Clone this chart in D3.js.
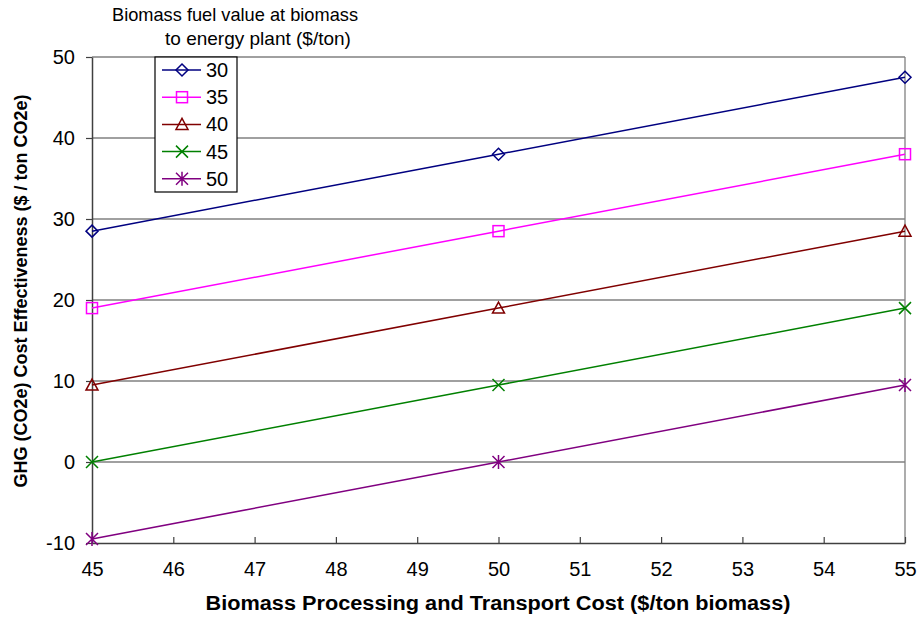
<!DOCTYPE html>
<html>
<head>
<meta charset="utf-8">
<script src="https://cdn.jsdelivr.net/npm/d3@7"></script>
<style>
  body { margin: 0; background: #fff; }
  svg { font-family: Arial, "Liberation Sans", sans-serif; }
</style>
</head>
<body>
<div id="chart"></div>
<script>
// Data
const xValues = [45, 50, 55];
const seriesNames = ['30', '35', '40', '45', '50'];
const seriesValues = [
    [28.5, 38, 47.5],
    [19, 28.5, 38],
    [9.5, 19, 28.5],
    [0, 9.5, 19],
    [-9.5, 0, 9.5]
];
const xTicks = [45, 46, 47, 48, 49, 50, 51, 52, 53, 54, 55];
const yTicks = [-10, 0, 10, 20, 30, 40, 50];
const colors = ['#000080', '#FF00FF', '#800000', '#008000', '#800080'];
const markers = ['diamond', 'square', 'triangle', 'x', 'star'];

const width = 922;
const height = 618;
const margin = { top: 57, right: 17, bottom: 75, left: 92 };

const svg = d3.select('#chart')
    .append('svg')
    .attr('width', width)
    .attr('height', height);

const xScale = d3.scaleLinear()
    .domain([45, 55])
    .range([margin.left, width - margin.right]);

const yScale = d3.scaleLinear()
    .domain([-10, 50])
    .range([height - margin.bottom, margin.top]);

// Gridlines
svg.append('g')
    .selectAll('line')
    .data(yTicks.filter((d) => d > -10))
    .join('line')
    .attr('x1', margin.left)
    .attr('x2', width - margin.right)
    .attr('y1', (d) => yScale(d))
    .attr('y2', (d) => yScale(d))
    .attr('stroke', '#808080')
    .attr('stroke-width', 1.3);

// right border
svg.append('line')
    .attr('x1', width - margin.right).attr('x2', width - margin.right)
    .attr('y1', margin.top).attr('y2', height - margin.bottom)
    .attr('stroke', '#808080').attr('stroke-width', 1.3);

// Axes
const xAxis = svg.append('g')
    .attr('transform', `translate(0, ${height - margin.bottom})`)
    .call(d3.axisBottom(xScale).tickValues(xTicks).tickFormat((d) => String(d))
        .tickSizeInner(-6).tickSizeOuter(0).tickPadding(19));

const yAxis = svg.append('g')
    .attr('transform', `translate(${margin.left}, 0)`)
    .call(d3.axisLeft(yScale).tickValues(yTicks).tickFormat((d) => String(d))
        .tickSizeInner(6).tickSizeOuter(0).tickPadding(11));

[xAxis, yAxis].forEach((ax) => {
    ax.select('.domain').attr('stroke', '#404040').attr('stroke-width', 1.5);
    ax.selectAll('.tick line').attr('stroke', '#404040').attr('stroke-width', 1.2);
    ax.selectAll('.tick text').attr('fill', '#000').style('font-size', '20px')
        .style('font-family', 'Arial, "Liberation Sans", sans-serif');
});

// Marker drawing
function drawMarker(g, type, color) {
    const s = 6;
    if (type === 'diamond') {
        g.append('path').attr('d', `M0,${-s}L${s},0L0,${s}L${-s},0Z`)
            .attr('fill', 'none').attr('stroke', color).attr('stroke-width', 1.5);
    } else if (type === 'square') {
        g.append('rect').attr('x', -5.5).attr('y', -5.5).attr('width', 11).attr('height', 11)
            .attr('fill', 'none').attr('stroke', color).attr('stroke-width', 1.5);
    } else if (type === 'triangle') {
        g.append('path').attr('d', `M0,-6L6,5L-6,5Z`)
            .attr('fill', 'none').attr('stroke', color).attr('stroke-width', 1.5);
    } else if (type === 'x') {
        g.append('path').attr('d', `M-6,-6L6,6M-6,6L6,-6`)
            .attr('stroke', color).attr('stroke-width', 1.5);
    } else if (type === 'star') {
        g.append('path').attr('d', `M-6,-6L6,6M-6,6L6,-6M0,-7L0,7`)
            .attr('stroke', color).attr('stroke-width', 1.5);
    }
}

const line = d3.line()
    .x((d, i) => xScale(xValues[i]))
    .y((d) => yScale(d));

seriesValues.forEach((vals, si) => {
    svg.append('path')
        .datum(vals)
        .attr('d', line)
        .attr('fill', 'none')
        .attr('stroke', colors[si])
        .attr('stroke-width', 1.5);
    vals.forEach((v, i) => {
        const g = svg.append('g')
            .attr('transform', `translate(${xScale(xValues[i])}, ${yScale(v)})`);
        drawMarker(g, markers[si], colors[si]);
    });
});

// Legend
const legendX = 155, legendY = 57, legendW = 82, legendH = 135;
svg.append('rect')
    .attr('x', legendX).attr('y', legendY)
    .attr('width', legendW).attr('height', legendH)
    .attr('fill', '#fff').attr('stroke', '#000').attr('stroke-width', 1.2);

seriesNames.forEach((name, si) => {
    const y = legendY + 13 + si * 27.2;
    svg.append('line')
        .attr('x1', legendX + 7).attr('x2', legendX + 46)
        .attr('y1', y).attr('y2', y)
        .attr('stroke', colors[si]).attr('stroke-width', 1.5);
    const g = svg.append('g').attr('transform', `translate(${legendX + 27}, ${y})`);
    drawMarker(g, markers[si], colors[si]);
    svg.append('text')
        .attr('x', legendX + 51).attr('y', y + 7)
        .style('font-size', '20px')
        .text(name);
});

// Legend title
svg.append('text')
    .attr('x', 235).attr('y', 21)
    .attr('text-anchor', 'middle')
    .attr('textLength', 246)
    .attr('lengthAdjust', 'spacingAndGlyphs')
    .style('font-size', '18.5px')
    .text('Biomass fuel value at biomass');
svg.append('text')
    .attr('x', 258).attr('y', 45)
    .attr('text-anchor', 'middle')
    .style('font-size', '19px')
    .text('to energy plant ($/ton)');

// Axis titles
svg.append('text')
    .attr('x', 498).attr('y', 610)
    .attr('text-anchor', 'middle')
    .attr('textLength', 585)
    .attr('lengthAdjust', 'spacingAndGlyphs')
    .style('font-size', '20px')
    .style('font-weight', 'bold')
    .text('Biomass Processing and Transport Cost ($/ton biomass)');

svg.append('text')
    .attr('transform', `translate(27, 291) rotate(-90)`)
    .attr('text-anchor', 'middle')
    .style('font-size', '18px')
    .style('font-weight', 'bold')
    .text('GHG (CO2e) Cost Effectiveness ($ / ton CO2e)');
</script>
</body>
</html>
